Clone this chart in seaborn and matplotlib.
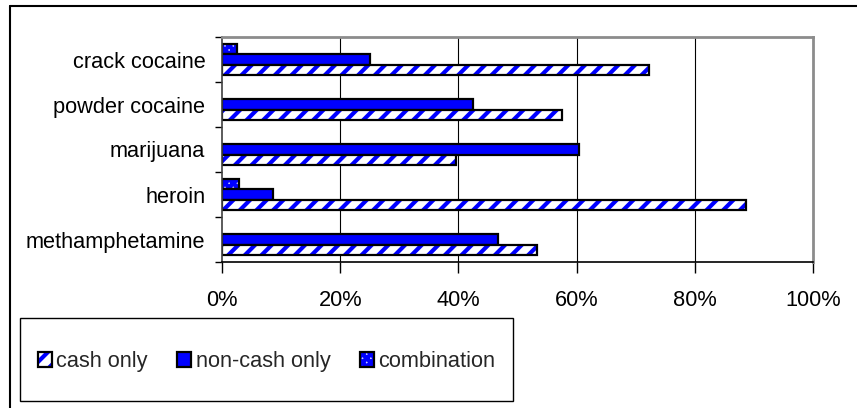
import numpy as np
import pandas as pd
import matplotlib
matplotlib.use("Agg")
import matplotlib.pyplot as plt
import seaborn as sns
from matplotlib.patches import Patch, Rectangle
from matplotlib.lines import Line2D
from matplotlib.colors import to_rgba

# ---- data (percent) ----
drugs = ["crack cocaine", "powder cocaine", "marijuana", "heroin", "methamphetamine"]
cash_only = [72.3, 57.6, 39.6, 88.6, 53.3]
non_cash_only = [25.1, 42.4, 60.4, 8.6, 46.7]
combination = [2.6, 0.0, 0.0, 2.8, 0.0]
series_names = ["cash only", "non-cash only", "combination"]
x_ticks = [0, 20, 40, 60, 80, 100]
x_tick_labels = ["0%", "20%", "40%", "60%", "80%", "100%"]

df = pd.DataFrame({
    "drug": drugs * 3,
    "value": cash_only + non_cash_only + combination,
    "type": [series_names[0]] * 5 + [series_names[1]] * 5 + [series_names[2]] * 5,
})

BLUE = "#0000FF"
styles = {
    "cash only": dict(face="white", hatch="//", hc=BLUE),
    "non-cash only": dict(face=BLUE, hatch=None, hc=BLUE),
    "combination": dict(face="#C8CCFF", hatch="xxxx", hc=BLUE),
}
FS = 15.7

sns.set_theme(style="white")
plt.rcParams["font.family"] = ["Liberation Sans", "DejaVu Sans"]
plt.rcParams["hatch.linewidth"] = 3.0

W, H = 857, 408
fig = plt.figure(figsize=(W / 100, H / 100), dpi=100)
fig.patch.set_facecolor("white")

L, R, T, B = 222, 813, 37, 262
ax = fig.add_axes([L / W, 1 - B / H, (R - L) / W, (B - T) / H])

hue_order = ["combination", "non-cash only", "cash only"]
sns.barplot(data=df, y="drug", x="value", hue="type", order=drugs,
            hue_order=hue_order, orient="h", width=0.67, ax=ax,
            palette={k: BLUE for k in hue_order}, legend=False,
            edgecolor="black", linewidth=1.6, saturation=1)


def style_patch(p, name):
    st = styles[name]
    p.set_facecolor(st["face"])
    p.set_edgecolor("black")
    if st["hatch"]:
        p.set_hatch(st["hatch"])
        try:
            p.set_hatchcolor(st["hc"])
        except AttributeError:
            p._hatch_color = to_rgba(st["hc"])


bars = [p for p in ax.patches]
for i, name in enumerate(hue_order):
    for j in range(len(drugs)):
        idx = i * len(drugs) + j
        if idx < len(bars):
            p = bars[idx]
            style_patch(p, name)
            if p.get_width() <= 0:
                p.set_visible(False)

ax.set_xlim(0, 100)
ax.set_ylim(len(drugs) - 0.5, -0.5)
ax.set_xlabel("")
ax.set_ylabel("")
ax.set_xticks(x_ticks)
ax.set_xticklabels(x_tick_labels, fontsize=FS)
ax.tick_params(axis="x", which="major", direction="out", length=8, width=1,
               color="black", pad=12, bottom=True)
ax.tick_params(axis="y", which="major", length=0, pad=12, labelsize=FS)
ax.set_yticks(np.arange(-0.5, len(drugs)), minor=True)
ax.tick_params(axis="y", which="minor", direction="out", length=5, width=1,
               color="black", left=True)
for lab in ax.get_yticklabels() + ax.get_xticklabels():
    lab.set_color("black")

ax.set_axisbelow(True)
for xv in x_ticks[1:-1]:
    ax.axvline(xv, color="black", lw=0.8, zorder=0)
ax.grid(False)

for s in ["top", "right"]:
    ax.spines[s].set_color("#8C8C8C")
    ax.spines[s].set_linewidth(2)
ax.spines["left"].set_color("#404040")
ax.spines["left"].set_linewidth(1.2)
ax.spines["bottom"].set_color("black")
ax.spines["bottom"].set_linewidth(1.2)

# outer chart frame (left and top visible)
fig.add_artist(Line2D([10 / W, 10 / W], [0, 1 - 6 / H], transform=fig.transFigure,
                      color="black", lw=1.5))
fig.add_artist(Line2D([10 / W, 1], [1 - 6 / H, 1 - 6 / H], transform=fig.transFigure,
                      color="black", lw=1.5))

# legend box
lx0, lx1, ly0, ly1 = 20, 513, 318, 401
fig.add_artist(Rectangle((lx0 / W, 1 - ly1 / H), (lx1 - lx0) / W, (ly1 - ly0) / H,
                         transform=fig.transFigure, facecolor="white",
                         edgecolor="black", lw=1.0))
handles = []
for name in series_names:
    st = styles[name]
    h = Patch(facecolor=st["face"], edgecolor="black", lw=1.6,
              hatch=st["hatch"] if st["hatch"] else None)
    if st["hatch"]:
        try:
            h.set_hatchcolor(st["hc"])
        except AttributeError:
            h._hatch_color = to_rgba(st["hc"])
    handles.append(h)
leg = fig.legend(handles, series_names, loc="center",
                 bbox_to_anchor=((lx0 + lx1) / 2 / W, 1 - (ly0 + ly1 + 4) / 2 / H),
                 ncol=3, frameon=False, fontsize=FS, handlelength=0.65,
                 handleheight=0.65, handletextpad=0.2, columnspacing=1.35)

fig.savefig("out.png", dpi=100, facecolor="white")
